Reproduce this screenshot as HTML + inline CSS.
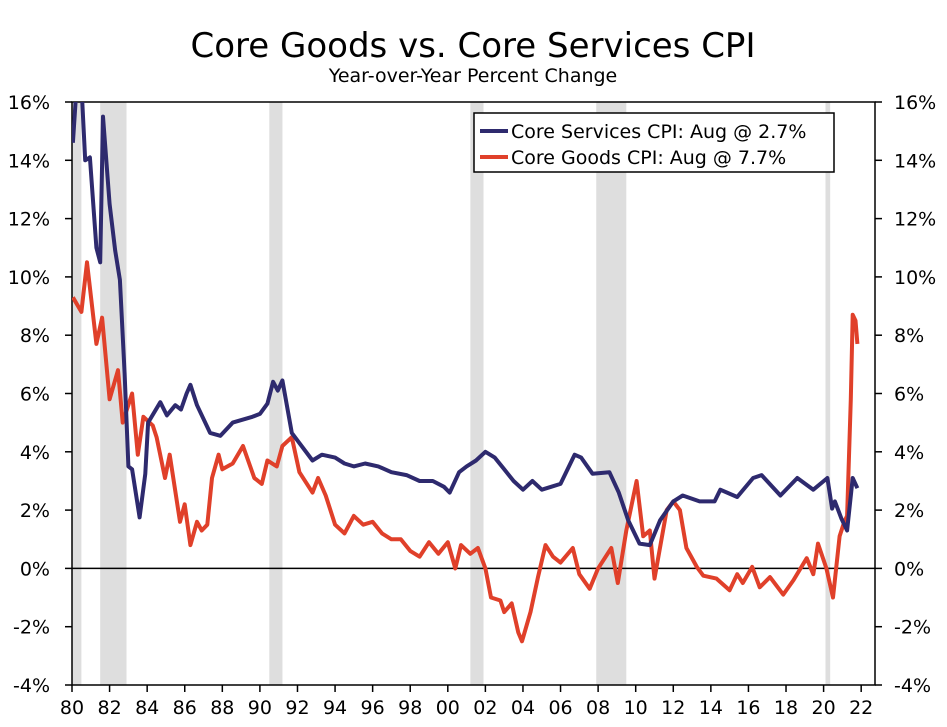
<!DOCTYPE html>
<html><head><meta charset="utf-8">
<style>
html,body{margin:0;padding:0;background:#fff;}
svg{display:block;font-family:"DejaVu Sans","Liberation Sans",sans-serif;}
</style></head>
<body>
<svg id="chart" width="947" height="727" viewBox="0 0 947 727" xmlns="http://www.w3.org/2000/svg">
<text x="473" y="57" text-anchor="middle" font-size="34" fill="#000">Core Goods vs. Core Services CPI</text>
<text x="473" y="82" text-anchor="middle" font-size="19" fill="#000">Year-over-Year Percent Change</text>
<g id="shade"></g>
<g id="axes"></g>
<g id="lines"></g>
<g>
<rect x="474" y="113" width="360" height="59" fill="#fff" stroke="#000" stroke-width="1.5"/>
<line x1="480" y1="131" x2="508" y2="131" stroke="#2e2a6e" stroke-width="4"/>
<text x="511" y="138" font-size="19">Core Services CPI: Aug @ 2.7%</text>
<line x1="480" y1="157" x2="508" y2="157" stroke="#e0402a" stroke-width="4"/>
<text x="511" y="164" font-size="19">Core Goods CPI: Aug @ 7.7%</text>
</g>
</svg>
<script>
const recessions = [[1980.0,1980.5],[1981.5,1982.9],[1990.5,1991.2],[2001.2,2001.9],[2007.9,2009.5],[2020.1,2020.35]];
const yTicks = [-4,-2,0,2,4,6,8,10,12,14,16];
const xTickYears = [1980,1982,1984,1986,1988,1990,1992,1994,1996,1998,2000,2002,2004,2006,2008,2010,2012,2014,2016,2018,2020,2022];
const xTickLabels = ["80","82","84","86","88","90","92","94","96","98","00","02","04","06","08","10","12","14","16","18","20","22"];
const servicesDates = [1980.05,1980.15,1980.25,1980.5,1980.7,1980.95,1981.3,1981.5,1981.65,1982.0,1982.3,1982.55,1982.8,1983.0,1983.2,1983.6,1983.9,1984.05,1984.7,1985.05,1985.5,1985.8,1986.1,1986.3,1986.65,1987.35,1987.9,1988.55,1989.6,1990.0,1990.4,1990.7,1990.95,1991.2,1991.7,1992.1,1992.8,1993.3,1994.0,1994.5,1995.0,1995.6,1996.3,1997.0,1997.8,1998.5,1999.2,1999.8,2000.1,2000.6,2001.0,2001.5,2002.0,2002.5,2003.0,2003.5,2004.0,2004.5,2005.0,2005.5,2006.0,2006.75,2007.1,2007.7,2008.6,2009.1,2009.6,2010.2,2010.75,2011.3,2012.0,2012.5,2013.4,2014.2,2014.5,2015.4,2016.25,2016.7,2017.7,2018.6,2019.45,2020.2,2020.45,2020.6,2020.95,2021.25,2021.55,2021.8];
const servicesValues = [14.6,15.6,16.6,16.6,14.0,14.1,11.0,10.5,15.5,12.5,10.9,9.9,6.7,3.5,3.4,1.75,3.25,5.0,5.7,5.25,5.6,5.45,6.0,6.3,5.6,4.65,4.55,5.0,5.2,5.3,5.65,6.4,6.1,6.45,4.65,4.3,3.7,3.9,3.8,3.6,3.5,3.6,3.5,3.3,3.2,3.0,3.0,2.8,2.6,3.3,3.5,3.7,4.0,3.8,3.4,3.0,2.7,3.0,2.7,2.8,2.9,3.9,3.8,3.25,3.3,2.6,1.65,0.85,0.8,1.65,2.3,2.5,2.3,2.3,2.7,2.45,3.1,3.2,2.5,3.1,2.7,3.1,2.05,2.3,1.7,1.3,3.1,2.75];
const goodsDates = [1980.05,1980.5,1980.8,1981.3,1981.6,1982.0,1982.45,1982.7,1983.2,1983.5,1983.8,1984.3,1984.5,1984.95,1985.2,1985.75,1986.0,1986.3,1986.65,1986.9,1987.2,1987.45,1987.8,1988.0,1988.55,1989.1,1989.7,1990.1,1990.4,1990.9,1991.2,1991.7,1992.1,1992.8,1993.1,1993.5,1994.0,1994.5,1995.0,1995.5,1996.0,1996.5,1997.0,1997.5,1998.0,1998.5,1999.0,1999.5,2000.0,2000.4,2000.7,2001.2,2001.6,2002.0,2002.3,2002.8,2003.0,2003.4,2003.75,2003.95,2004.4,2004.8,2005.2,2005.6,2006.0,2006.65,2007.0,2007.55,2008.0,2008.7,2009.05,2009.5,2010.05,2010.4,2010.75,2011.0,2011.65,2012.0,2012.35,2012.7,2013.25,2013.6,2014.3,2015.0,2015.4,2015.7,2016.2,2016.6,2017.15,2017.85,2018.4,2019.1,2019.45,2019.7,2020.15,2020.5,2020.85,2021.1,2021.25,2021.45,2021.55,2021.7,2021.8];
const goodsValues = [9.3,8.8,10.5,7.7,8.6,5.8,6.8,5.0,6.0,3.9,5.2,4.9,4.5,3.1,3.9,1.6,2.2,0.8,1.6,1.3,1.5,3.1,3.9,3.4,3.6,4.2,3.1,2.9,3.7,3.5,4.2,4.5,3.3,2.6,3.1,2.5,1.5,1.2,1.8,1.5,1.6,1.2,1.0,1.0,0.6,0.4,0.9,0.5,0.9,0.0,0.8,0.5,0.7,0.0,-1.0,-1.1,-1.5,-1.2,-2.2,-2.5,-1.5,-0.3,0.8,0.4,0.2,0.7,-0.2,-0.7,0.0,0.7,-0.5,1.3,3.0,1.1,1.3,-0.35,2.0,2.3,2.0,0.7,0.05,-0.25,-0.35,-0.75,-0.2,-0.5,0.05,-0.65,-0.3,-0.9,-0.4,0.35,-0.2,0.85,0.0,-1.0,1.1,1.6,1.8,5.8,8.7,8.5,7.7];

const L=72,R=875,T=102,B=685,Y0=1980,PXY=18.79;
const yMin=-4,yMax=16;
const xs=yr=>L+(yr-Y0)*PXY;
const ys=v=>B-(v-yMin)/(yMax-yMin)*(B-T);
const NS="http://www.w3.org/2000/svg";
function mk(tag,attrs,parent){const e=document.createElementNS(NS,tag);for(const k in attrs)e.setAttribute(k,attrs[k]);parent.appendChild(e);return e;}
const shade=document.getElementById('shade'),axes=document.getElementById('axes'),lines=document.getElementById('lines');
recessions.forEach(r=>{
  const e=mk('rect',{x:xs(r[0]),y:T,width:xs(r[1])-xs(r[0]),height:B-T,fill:'#dedede'},shade);
  
  
});
// frame
const fr=mk('rect',{x:L,y:T,width:R-L,height:B-T,fill:'none',stroke:'#000','stroke-width':1.5},axes);


const zl=mk('line',{x1:L,x2:R,y1:ys(0),y2:ys(0),stroke:'#000','stroke-width':1.5},axes);


yTicks.forEach(v=>{
  const y=ys(v);
  mk('line',{x1:L-7,x2:L,y1:y,y2:y,stroke:'#000','stroke-width':1.5},axes);
  mk('line',{x1:R,x2:R+7,y1:y,y2:y,stroke:'#000','stroke-width':1.5},axes);
  const t1=mk('text',{x:L-22,y:y+7,'text-anchor':'end','font-size':19},axes);t1.textContent=v+'%';
  
  
  const t2=mk('text',{x:R+19,y:y+7,'text-anchor':'start','font-size':19},axes);t2.textContent=v+'%';
  
  
});
xTickYears.forEach((yr,i)=>{
  const x=xs(yr);
  mk('line',{x1:x,x2:x,y1:B,y2:B+7,stroke:'#000','stroke-width':1.5},axes);
  const t=mk('text',{x:x,y:B+29,'text-anchor':'middle','font-size':19},axes);t.textContent=xTickLabels[i];
  
  
});
const clip=mk('clipPath',{id:'pc'},document.getElementById('chart'));
mk('rect',{x:L,y:T,width:R-L,height:B-T},clip);
function path(d,v){return d.map((yr,i)=>(i?'L':'M')+xs(yr).toFixed(1)+','+ys(v[i]).toFixed(1)).join('');}
const pg=mk('path',{d:path(goodsDates,goodsValues),fill:'none',stroke:'#e0402a','stroke-width':4,'stroke-linejoin':'round','clip-path':'url(#pc)'},lines);


const ps=mk('path',{d:path(servicesDates,servicesValues),fill:'none',stroke:'#2e2a6e','stroke-width':4,'stroke-linejoin':'round','clip-path':'url(#pc)'},lines);


</script>
</body></html>
